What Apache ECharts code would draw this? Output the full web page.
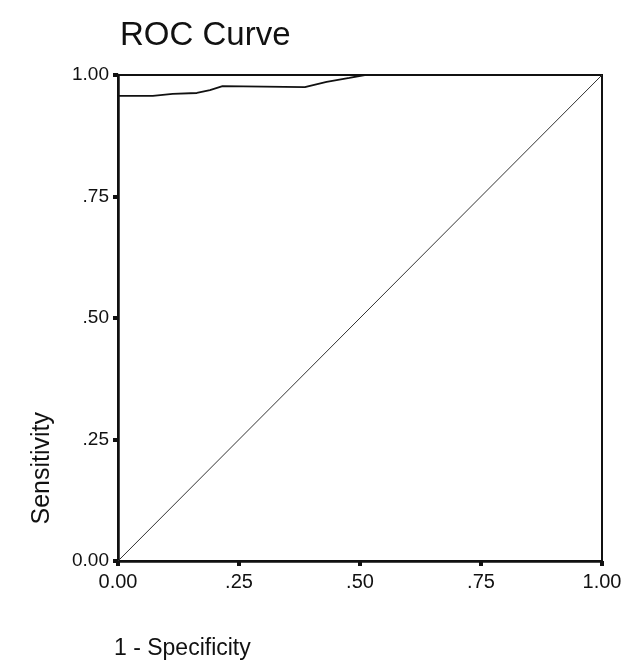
<!DOCTYPE html>
<html>
<head>
<meta charset="utf-8">
<script src="https://cdn.jsdelivr.net/npm/echarts@6/dist/echarts.min.js"></script>
<style>
html,body{margin:0;padding:0;background:#fff;}
#c{width:627px;height:669px;}
</style>
</head>
<body>
<div id="c"></div>
<script>
var titleText = 'ROC Curve';
var xTitle = '1 - Specificity';
var yTitle = 'Sensitivity';
var tickValues = [0, 0.25, 0.5, 0.75, 1];
var tickLabels = ['0.00', '.25', '.50', '.75', '1.00'];
var rocX = [0, 0, 0.072, 0.113, 0.163, 0.19, 0.216, 0.386, 0.431, 0.478, 0.51, 1];
var rocY = [0, 0.957, 0.957, 0.961, 0.963, 0.969, 0.977, 0.975, 0.986, 0.994, 1.0, 1.0];
var refX = [0, 1];
var refY = [0, 1];

function pairs(xs, ys){ return xs.map(function(x,i){ return [x, ys[i]]; }); }
function fmt(v){ var i = tickValues.indexOf(Math.round(v*100)/100); return i >= 0 ? tickLabels[i] : ''; }

var font = 'Liberation Sans, Arial, sans-serif';
var chart = echarts.init(document.getElementById('c'));
chart.setOption({
  animation: false,
  backgroundColor: '#fff',
  title: [
    {text: titleText, left: 115, top: 14, textStyle: {fontFamily: font, fontSize: 33, fontWeight: 'normal', color: '#111'}},
    {text: xTitle, left: 109, top: 632, textStyle: {fontFamily: font, fontSize: 23, fontWeight: 'normal', color: '#111'}}
  ],
  graphic: [{
    type: 'text', left: 30, top: 412, rotation: Math.PI/2,
    style: {text: yTitle, font: '25px ' + font, fill: '#111'}
  }],
  grid: {left: 118, right: 25, top: 75, bottom: 108, show: true, borderColor: '#111', borderWidth: 2},
  xAxis: {
    type: 'value', min: 0, max: 1, interval: 0.25,
    axisLine: {lineStyle: {color: '#111', width: 2.5}},
    axisTick: {show: true, length: 5, lineStyle: {color: '#111', width: 4}},
    axisLabel: {formatter: fmt, fontFamily: font, fontSize: 20, color: '#111', margin: 11},
    splitLine: {show: false}
  },
  yAxis: {
    type: 'value', min: 0, max: 1, interval: 0.25,
    axisLine: {show: true, lineStyle: {color: '#111', width: 2.5}},
    axisTick: {show: true, length: 5, lineStyle: {color: '#111', width: 4}},
    axisLabel: {formatter: fmt, fontFamily: font, fontSize: 19, color: '#111', margin: 9},
    splitLine: {show: false}
  },
  series: [
    {type: 'line', data: pairs(rocX, rocY), symbol: 'none', lineStyle: {color: '#111', width: 1.8}},
    {type: 'line', data: pairs(refX, refY), symbol: 'none', lineStyle: {color: '#333', width: 1}}
  ]
});
</script>
</body>
</html>
